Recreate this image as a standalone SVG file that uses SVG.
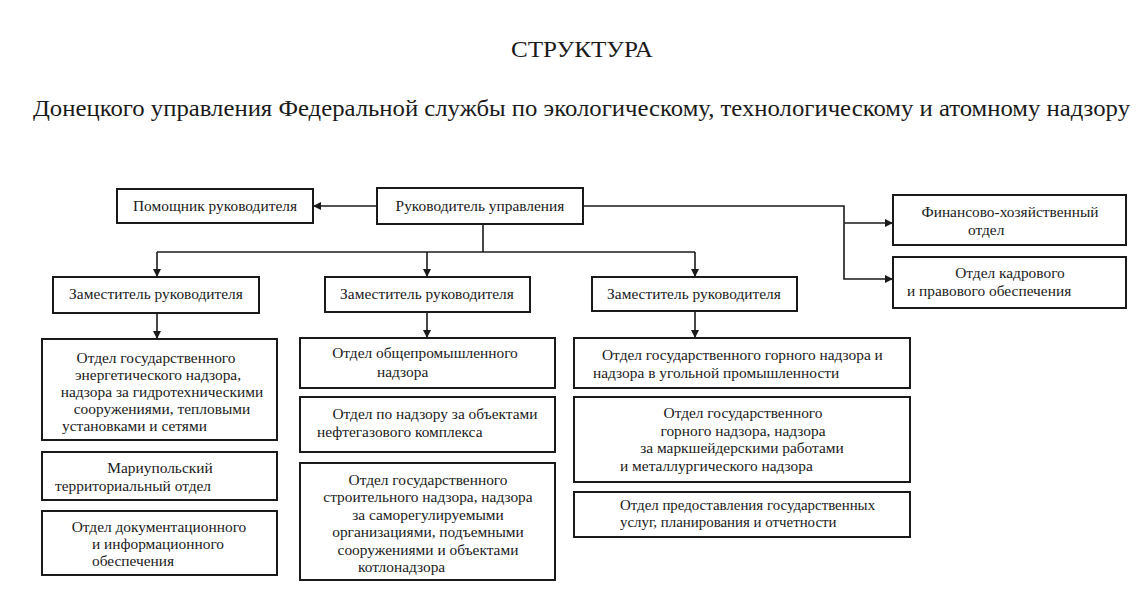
<svg xmlns="http://www.w3.org/2000/svg" width="1144" height="604" viewBox="0 0 1144 604">
<style>
.bg{fill:#ffffff}
.box{fill:#ffffff;stroke:#1a1a1a;stroke-width:2}
.t{font-family:"Liberation Serif","Times New Roman","DejaVu Serif",serif;font-size:15.4px;fill:#1a1a1a}
.s{font-size:14.9px}
.m{text-anchor:middle}
.ttl{font-family:"Liberation Serif","Times New Roman","DejaVu Serif",serif;fill:#1a1a1a}
.ln{fill:none;stroke:#1a1a1a;stroke-width:1.6}
</style>
<defs>
<marker id="ar" viewBox="0 0 10 10" refX="10" refY="5" markerWidth="8" markerHeight="8" markerUnits="userSpaceOnUse" orient="auto">
<path d="M0,0 L10,5 L0,10 z" fill="#1a1a1a"/>
</marker>
</defs>
<rect class="bg" x="0" y="0" width="1144" height="604"/>
<g id="title">
<text class="ttl m" x="582" y="57" font-size="23" textLength="142" lengthAdjust="spacingAndGlyphs">СТРУКТУРА</text>
<text class="ttl" x="33" y="116" font-size="24" textLength="1097" lengthAdjust="spacingAndGlyphs">Донецкого управления Федеральной службы по экологическому, технологическому и атомному надзору</text>
</g>
<g id="connectors">
<path class="ln" d="M377,206 L313,206" marker-end="url(#ar)"/>
<path class="ln" d="M583,206 L844,206 L844,279 L893,279" marker-end="url(#ar)"/>
<path class="ln" d="M844,223 L893,223" marker-end="url(#ar)"/>
<path class="ln" d="M483,224 L483,252"/>
<path class="ln" d="M157,252 L695,252"/>
<path class="ln" d="M157,252 L157,277" marker-end="url(#ar)"/>
<path class="ln" d="M427,252 L427,277" marker-end="url(#ar)"/>
<path class="ln" d="M695,252 L695,277" marker-end="url(#ar)"/>
<path class="ln" d="M157,313 L157,339" marker-end="url(#ar)"/>
<path class="ln" d="M427,312 L427,338" marker-end="url(#ar)"/>
<path class="ln" d="M695,311 L695,338" marker-end="url(#ar)"/>
</g>
<g id="head">
<rect class="box" x="377" y="188" width="206" height="36"/>
<text class="t m" x="480" y="211">Руководитель управления</text>
</g>
<g id="assistant">
<rect class="box" x="117" y="189" width="196" height="34"/>
<text class="t m" x="215" y="211">Помощник руководителя</text>
</g>
<g id="finance">
<rect class="box" x="893" y="195" width="233" height="50"/>
<text class="t m" x="1010" y="217">Финансово-хозяйственный</text>
<text class="t" x="968" y="235">отдел</text>
</g>
<g id="hr">
<rect class="box" x="893" y="257" width="233" height="51"/>
<text class="t m" x="1010" y="278">Отдел кадрового</text>
<text class="t" x="907" y="296">и правового обеспечения</text>
</g>
<g id="deputy1">
<rect class="box" x="53" y="277" width="206" height="36"/>
<text class="t m" x="156" y="299">Заместитель руководителя</text>
</g>
<g id="deputy2">
<rect class="box" x="325" y="277" width="205" height="35"/>
<text class="t m" x="427" y="299">Заместитель руководителя</text>
</g>
<g id="deputy3">
<rect class="box" x="592" y="277" width="205" height="34"/>
<text class="t m" x="694" y="299">Заместитель руководителя</text>
</g>
<g id="c1b1">
<rect class="box" x="42" y="339" width="235" height="101"/>
<text class="t m" x="156" y="363">Отдел государственного</text>
<text class="t m" x="158" y="380">энергетического надзора,</text>
<text class="t m" x="162" y="397">надзора за гидротехническими</text>
<text class="t m" x="162" y="414">сооружениями, тепловыми</text>
<text class="t" x="62" y="431">установками и сетями</text>
</g>
<g id="c1b2">
<rect class="box" x="42" y="452" width="235" height="48"/>
<text class="t m" x="160" y="473">Мариупольский</text>
<text class="t" x="55" y="491">территориальный отдел</text>
</g>
<g id="c1b3">
<rect class="box" x="42" y="511" width="235" height="64"/>
<text class="t m" x="159" y="532">Отдел документационного</text>
<text class="t m" x="158" y="549">и информационного</text>
<text class="t" x="92" y="566">обеспечения</text>
</g>
<g id="c2b1">
<rect class="box" x="300" y="338" width="255" height="50"/>
<text class="t m" x="425" y="358">Отдел общепромышленного</text>
<text class="t" x="377" y="377">надзора</text>
</g>
<g id="c2b2">
<rect class="box" x="300" y="397" width="255" height="55"/>
<text class="t m" x="435" y="419">Отдел по надзору за объектами</text>
<text class="t" x="317" y="437">нефтегазового комплекса</text>
</g>
<g id="c2b3">
<rect class="box" x="300" y="463" width="255" height="117"/>
<text class="t m" x="428" y="485">Отдел государственного</text>
<text class="t m" x="428" y="502">строительного надзора, надзора</text>
<text class="t m" x="428" y="520">за саморегулируемыми</text>
<text class="t m" x="428" y="537">организациями, подъемными</text>
<text class="t m" x="428" y="555">сооружениями и объектами</text>
<text class="t" x="358" y="572">котлонадзора</text>
</g>
<g id="c3b1">
<rect class="box" x="574" y="338" width="336" height="50"/>
<text class="t" x="602" y="360">Отдел государственного горного надзора и</text>
<text class="t" x="593" y="378">надзора в угольной промышленности</text>
</g>
<g id="c3b2">
<rect class="box" x="574" y="397" width="336" height="85"/>
<text class="t m" x="743" y="418">Отдел государственного</text>
<text class="t m" x="743" y="436">горного надзора, надзора</text>
<text class="t m" x="742" y="453">за маркшейдерскими работами</text>
<text class="t" x="620" y="471">и металлургического надзора</text>
</g>
<g id="c3b3">
<rect class="box" x="574" y="492" width="336" height="45"/>
<text class="t s" x="620" y="510">Отдел предоставления государственных</text>
<text class="t s" x="620" y="527">услуг, планирования и отчетности</text>
</g>
</svg>
